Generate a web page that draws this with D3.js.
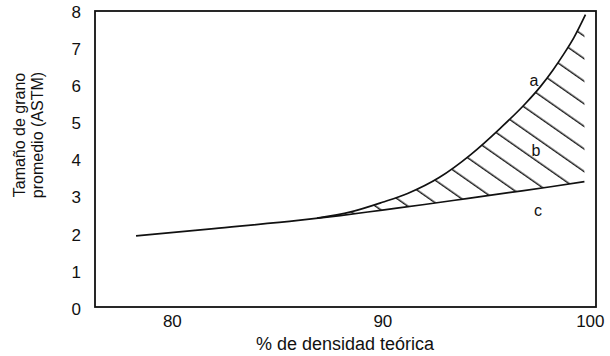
<!DOCTYPE html>
<html>
<head>
<meta charset="utf-8">
<script src="https://cdn.jsdelivr.net/npm/d3@7"></script>
<style>
  html, body { margin: 0; padding: 0; background: #fff; }
  svg { display: block; font-family: "Liberation Sans", Arial, Helvetica, sans-serif; }
</style>
</head>
<body>
<svg id="chart" width="610" height="356"></svg>
<script>
// ---- data ----
const xTicks = [80, 90, 100];
const yTicks = [0, 1, 2, 3, 4, 5, 6, 7, 8];
// curve c (lower boundary)
const curveC = [
  [78.3, 1.92], [82, 2.12], [86, 2.34], [88, 2.47], [90, 2.62],
  [92, 2.77], [94, 2.93], [96, 3.09], [98, 3.25], [99.6, 3.39]
];
// curve a (upper boundary)
const curveA = [
  [86.9, 2.40], [88.5, 2.57], [90, 2.83], [91.2, 3.07], [92.7, 3.50],
  [94.2, 4.12], [95.6, 4.83], [96.8, 5.50], [97.5, 5.95], [98.1, 6.40],
  [98.6, 6.82], [99.1, 7.28], [99.65, 7.90]
];
const curveLabels = [
  { text: "a", x: 97.2, y: 6.12 },
  { text: "b", x: 97.3, y: 4.22 },
  { text: "c", x: 97.4, y: 2.6 }
];
const xTitle = "% de densidad teórica";
const yTitle = ["Tamaño de grano", "promedio (ASTM)"];

// ---- layout ----
const svg = d3.select("#chart");
const mLeft = 95, mRight = 596, mTop = 11, mBottom = 307;
const x = d3.scaleLinear().domain([76.35, 100.15]).range([mLeft, mRight]);
const y = d3.scaleLinear().domain([0, 8]).range([mBottom, mTop]);

// hatch pattern
const defs = svg.append("defs");
const pat = defs.append("pattern")
  .attr("id", "hatch")
  .attr("patternUnits", "userSpaceOnUse")
  .attr("width", 24).attr("height", 18.5)
  .attr("patternTransform", "rotate(35)");
pat.append("line")
  .attr("x1", 0).attr("y1", 9).attr("x2", 24).attr("y2", 9)
  .attr("stroke", "#111").attr("stroke-width", 1.4);

const areaBelowA = d3.area()
  .x(d => x(d[0])).y0(y(0)).y1(d => y(d[1]))
  .curve(d3.curveMonotoneX);
const areaAboveC = d3.area()
  .x(d => x(d[0])).y0(y(8)).y1(d => y(d[1]))
  .curve(d3.curveMonotoneX);

defs.append("clipPath").attr("id", "clipA")
  .append("path").attr("d", areaBelowA(curveA));
defs.append("clipPath").attr("id", "clipC")
  .append("path").attr("d", areaAboveC(curveC));

svg.append("g").attr("clip-path", "url(#clipA)")
  .append("g").attr("clip-path", "url(#clipC)")
  .append("rect")
  .attr("x", mLeft).attr("y", mTop)
  .attr("width", mRight - mLeft).attr("height", mBottom - mTop)
  .attr("fill", "url(#hatch)");

// curves
const line = d3.line().x(d => x(d[0])).y(d => y(d[1])).curve(d3.curveMonotoneX);
svg.append("path").attr("d", line(curveC))
  .attr("fill", "none").attr("stroke", "#111").attr("stroke-width", 1.7);
svg.append("path").attr("d", line(curveA))
  .attr("fill", "none").attr("stroke", "#111").attr("stroke-width", 1.7);

// frame
svg.append("rect")
  .attr("x", mLeft).attr("y", mTop)
  .attr("width", mRight - mLeft).attr("height", mBottom - mTop)
  .attr("fill", "none").attr("stroke", "#111").attr("stroke-width", 1.8);

// axes labels (ticks drawn via axis generators, lines hidden)
const xAxis = svg.append("g")
  .attr("transform", `translate(0,${mBottom})`)
  .call(d3.axisBottom(x).tickValues(xTicks).tickSize(0).tickPadding(4));
xAxis.select(".domain").remove();
xAxis.selectAll("text")
  .attr("font-size", 17).attr("fill", "#111")
  .attr("font-family", "Liberation Sans, Arial, sans-serif")
  .attr("dy", "0.95em")
  .attr("dx", d => d === 100 ? -3 : 0);

const yAxis = svg.append("g")
  .attr("transform", `translate(${mLeft},0)`)
  .call(d3.axisLeft(y).tickValues(yTicks).tickSize(0).tickPadding(14));
yAxis.select(".domain").remove();
yAxis.selectAll("text")
  .attr("font-size", 17).attr("fill", "#111")
  .attr("font-family", "Liberation Sans, Arial, sans-serif")
  .attr("dy", d => (0.42 - d * 0.004) + "em");

// curve labels
svg.append("g").selectAll("text").data(curveLabels).join("text")
  .attr("x", d => x(d.x)).attr("y", d => y(d.y))
  .attr("text-anchor", "middle").attr("dy", "0.35em")
  .attr("font-size", 16).attr("fill", "#111")
  .text(d => d.text);

// titles
svg.append("text")
  .attr("x", 345).attr("y", 350)
  .attr("text-anchor", "middle").attr("font-size", 18).attr("fill", "#111")
  .text(xTitle);

const yt = svg.append("text")
  .attr("transform", "translate(19,135) rotate(-90)")
  .attr("text-anchor", "middle").attr("font-size", 16).attr("fill", "#111");
yt.append("tspan").attr("x", 0).attr("dy", "0.35em").text(yTitle[0]);
yt.append("tspan").attr("x", 0).attr("dy", "1.12em").text(yTitle[1]);
</script>
</body>
</html>
